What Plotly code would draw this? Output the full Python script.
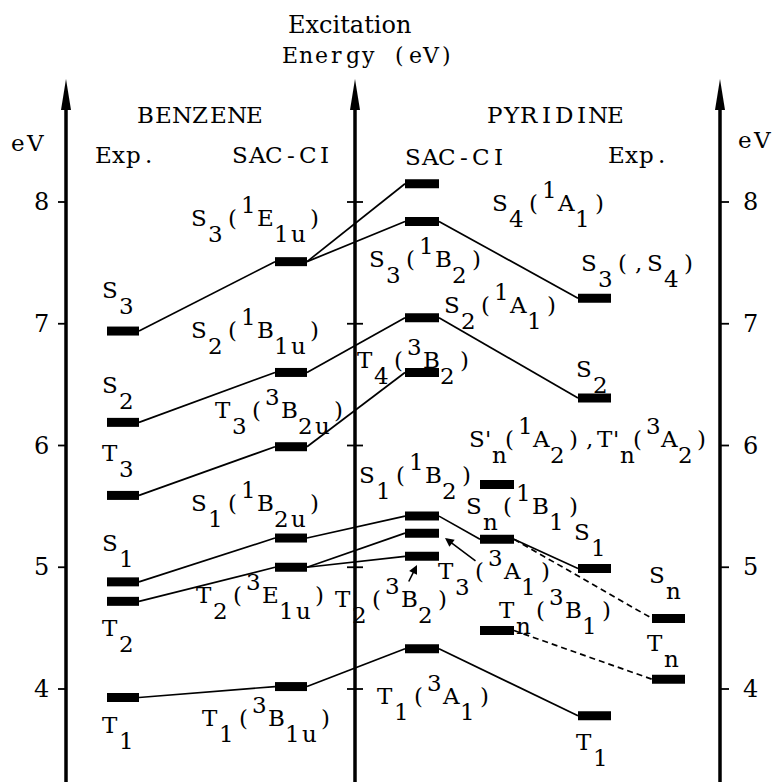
import plotly.graph_objects as go

# ---------------- data (excitation energies, eV) ----------------
benzene_exp_states = ["S3", "S2", "T3", "S1", "T2", "T1"]
benzene_exp_eV = [6.94, 6.19, 5.59, 4.88, 4.72, 3.93]

benzene_sac_states = ["S3", "S2", "T3", "S1", "T2", "T1"]
benzene_sac_eV = [7.51, 6.60, 5.99, 5.24, 5.00, 4.02]

pyridine_sac_states = ["S4", "S3", "S2", "T4", "S1", "T3", "T2", "T1"]
pyridine_sac_eV = [8.15, 7.84, 7.05, 6.60, 5.42, 5.28, 5.09, 4.33]

pyridine_n_states = ["Sn'", "Sn", "Tn"]
pyridine_n_eV = [5.68, 5.23, 4.48]

pyridine_exp_states = ["S3", "S2", "S1", "T1"]
pyridine_exp_eV = [7.21, 6.39, 4.99, 3.78]

pyridine_exp_n_states = ["Sn", "Tn"]
pyridine_exp_n_eV = [4.58, 4.08]

# correlations: (from column, state, to column, state, dashed)
correlations = [
    ("benz_exp", "S3", "benz_sac", "S3", False),
    ("benz_exp", "S2", "benz_sac", "S2", False),
    ("benz_exp", "T3", "benz_sac", "T3", False),
    ("benz_exp", "S1", "benz_sac", "S1", False),
    ("benz_exp", "T2", "benz_sac", "T2", False),
    ("benz_exp", "T1", "benz_sac", "T1", False),
    ("benz_sac", "S3", "pyr_sac", "S4", False),
    ("benz_sac", "S3", "pyr_sac", "S3", False),
    ("benz_sac", "S2", "pyr_sac", "S2", False),
    ("benz_sac", "T3", "pyr_sac", "T4", False),
    ("benz_sac", "S1", "pyr_sac", "S1", False),
    ("benz_sac", "T2", "pyr_sac", "T3", False),
    ("benz_sac", "T2", "pyr_sac", "T2", False),
    ("benz_sac", "T1", "pyr_sac", "T1", False),
    ("pyr_sac", "S3", "pyr_exp", "S3", False),
    ("pyr_sac", "S2", "pyr_exp", "S2", False),
    ("pyr_sac", "T1", "pyr_exp", "T1", False),
    ("pyr_sac", "S1", "pyr_n", "Sn", False),
    ("pyr_n", "Sn", "pyr_exp", "S1", False),
    ("pyr_n", "Sn", "pyr_exp_n", "Sn", True),
    ("pyr_n", "Tn", "pyr_exp_n", "Tn", True),
]

tick_values = [4, 5, 6, 7, 8]

# ---------------- layout constants ----------------
W, H = 777, 782
PX_PER_EV = 121.75
Y4_PX = 689


def ev(py):
    """pixel row -> eV on the y axis"""
    return 4 + (Y4_PX - py) / PX_PER_EV


col_x = {
    "benz_exp": (107, 139),
    "benz_sac": (275, 307),
    "pyr_sac": (405, 439),
    "pyr_n": (480, 514),
    "pyr_exp": (578, 611),
    "pyr_exp_n": (652, 685),
}
levels = {
    "benz_exp": dict(zip(benzene_exp_states, benzene_exp_eV)),
    "benz_sac": dict(zip(benzene_sac_states, benzene_sac_eV)),
    "pyr_sac": dict(zip(pyridine_sac_states, pyridine_sac_eV)),
    "pyr_n": dict(zip(pyridine_n_states, pyridine_n_eV)),
    "pyr_exp": dict(zip(pyridine_exp_states, pyridine_exp_eV)),
    "pyr_exp_n": dict(zip(pyridine_exp_n_states, pyridine_exp_n_eV)),
}

FONT = "DejaVu Serif"
INK = "black"

fig = go.Figure()

# connectors
for dashed in (False, True):
    xs, ys = [], []
    for c1, s1, c2, s2, d in correlations:
        if d != dashed:
            continue
        xs += [col_x[c1][1], col_x[c2][0], None]
        ys += [levels[c1][s1], levels[c2][s2], None]
    fig.add_trace(go.Scatter(
        x=xs, y=ys, mode="lines", hoverinfo="skip",
        line=dict(color=INK, width=1.7, dash="6px,4px" if dashed else "solid")))

# level bars
for col, lv in levels.items():
    xs, ys = [], []
    for s, e in lv.items():
        xs += [col_x[col][0], col_x[col][1], None]
        ys += [e, e, None]
    fig.add_trace(go.Scatter(x=xs, y=ys, mode="lines", hoverinfo="skip",
                             line=dict(color="black", width=9)))

shapes = []
annotations = []

# vertical axes with arrowheads and ticks
axes_x = [66, 355, 720]
tick_span = {66: (58, 66), 355: (347, 363), 720: (720, 729)}
for ax in axes_x:
    shapes.append(dict(type="line", xref="x", yref="y", x0=ax, x1=ax,
                       y0=ev(100), y1=ev(800), line=dict(color="black", width=3.5)))
    shapes.append(dict(type="path", xref="x", yref="y",
                       path=f"M {ax},{ev(79)} L {ax-5},{ev(110)} L {ax+5},{ev(110)} Z",
                       fillcolor="black", line=dict(width=0)))
    for v in tick_values:
        a, b = tick_span[ax]
        shapes.append(dict(type="line", xref="x", yref="y", x0=a, x1=b, y0=v, y1=v,
                           line=dict(color="black", width=1.8)))

for v in tick_values:
    for tx in (41, 750):
        annotations.append(dict(x=tx, y=v, xref="x", yref="y", text=str(v),
                                showarrow=False, xanchor="center", yanchor="middle",
                                font=dict(family=FONT, size=24, color=INK)))


SUB_DY = 16
SUP_DY = -13


def _char(x, y, c, size):
    annotations.append(dict(
        x=x, y=ev(y), xref="x", yref="y", text=c, showarrow=False,
        xanchor="center", yanchor="middle",
        font=dict(family=FONT, size=size, color=INK)))


def label(x0, yc, markup, adv=16.5, size=23):
    """typewriter-style label: one character per cell; _{..} subscript,
    ^{..} superscript, ~ back one cell (subscript under a prime)"""
    col = 0
    i = 0
    back = False
    while i < len(markup):
        ch = markup[i]
        if ch in "_^" and i + 1 < len(markup) and markup[i + 1] == "{":
            j = markup.index("}", i)
            dy = SUB_DY if ch == "_" else SUP_DY
            for c in markup[i + 2:j]:
                dx = 0
                if back:
                    annotations[-1]["x"] -= 5   # the prime
                    dx = 6
                    back = False
                _char(x0 + (col + 0.5) * adv + dx, yc + dy, c, size)
                col += 1
            i = j + 1
            continue
        if ch == "~":
            col -= 1
            back = True
        elif ch == " ":
            col += 1
        else:
            _char(x0 + (col + 0.5) * adv, yc, ch, size)
            col += 1
        i += 1


# headings
annotations.append(dict(x=349, y=ev(25), xref="x", yref="y", text="Excitation",
                        showarrow=False, xanchor="center", yanchor="middle",
                        font=dict(family=FONT, size=24, color=INK)))
label(282, 55, "Energy (eV)", adv=15.7, size=22)
label(136, 115, "BENZENE", adv=18.3)
label(486, 115, "PYRIDINE", adv=17.3)
label(9, 143, "eV", adv=17.5)
label(736, 140, "eV", adv=17.5)
label(96, 155, "Exp.", adv=15)
label(231, 155, "SAC-CI", adv=17)
label(404, 157, "SAC-CI", adv=17.2)
label(609, 155, "Exp.", adv=15)

# benzene experimental
label(102, 290, "S_{3}")
label(102, 385, "S_{2}")
label(102, 453, "T_{3}")
label(102, 543, "S_{1}")
label(102, 628, "T_{2}")
label(102, 725, "T_{1}")

# benzene SAC-CI
label(191, 218, "S_{3}(^{1}E_{1u})")
label(191, 330, "S_{2}(^{1}B_{1u})")
label(215, 410, "T_{3}(^{3}B_{2u})")
label(191, 503, "S_{1}(^{1}B_{2u})")
label(196, 595, "T_{2}(^{3}E_{1u})")
label(202, 718, "T_{1}(^{3}B_{1u})")

# pyridine SAC-CI
label(492, 203, "S_{4}(^{1}A_{1})")
label(369, 259, "S_{3}(^{1}B_{2})")
label(444, 305, "S_{2}(^{1}A_{1})")
label(357, 360, "T_{4}(^{3}B_{2})")
label(469, 439, "S'~_{n}(^{1}A_{2}),T'~_{n}(^{3}A_{2})", adv=16)
label(359, 475, "S_{1}(^{1}B_{2})")
label(466, 506, "S_{n}(^{1}B_{1})")
label(438, 571, "T_{3}(^{3}A_{1})")
label(335, 599, "T_{2}(^{3}B_{2})")
label(499, 610, "T_{n}(^{3}B_{1})")
label(377, 696, "T_{1}(^{3}A_{1})")

# pyridine experimental
label(581, 263, "S_{3}(,S_{4})")
label(576, 369, "S_{2}")
label(574, 532, "S_{1}")
label(576, 742, "T_{1}")
label(649, 575, "S_{n}")
label(647, 643, "T_{n}")

# pointer arrows
for (hx, hy), (tx, ty) in [((445, 538), (477, 562)), ((417, 565), (408, 583))]:
    annotations.append(dict(x=hx, y=ev(hy), ax=tx, ay=ev(ty), xref="x", yref="y",
                            axref="x", ayref="y", text="", showarrow=True,
                            arrowhead=2, arrowsize=1.1, arrowwidth=1.6,
                            arrowcolor=INK))

fig.update_layout(
    width=W, height=H, margin=dict(l=0, r=0, t=0, b=0),
    paper_bgcolor="white", plot_bgcolor="white", showlegend=False,
    xaxis=dict(range=[0, W], visible=False, fixedrange=True),
    yaxis=dict(range=[ev(H), ev(0)], visible=False, fixedrange=True),
    shapes=shapes, annotations=annotations,
)

fig.write_html("out.html")
